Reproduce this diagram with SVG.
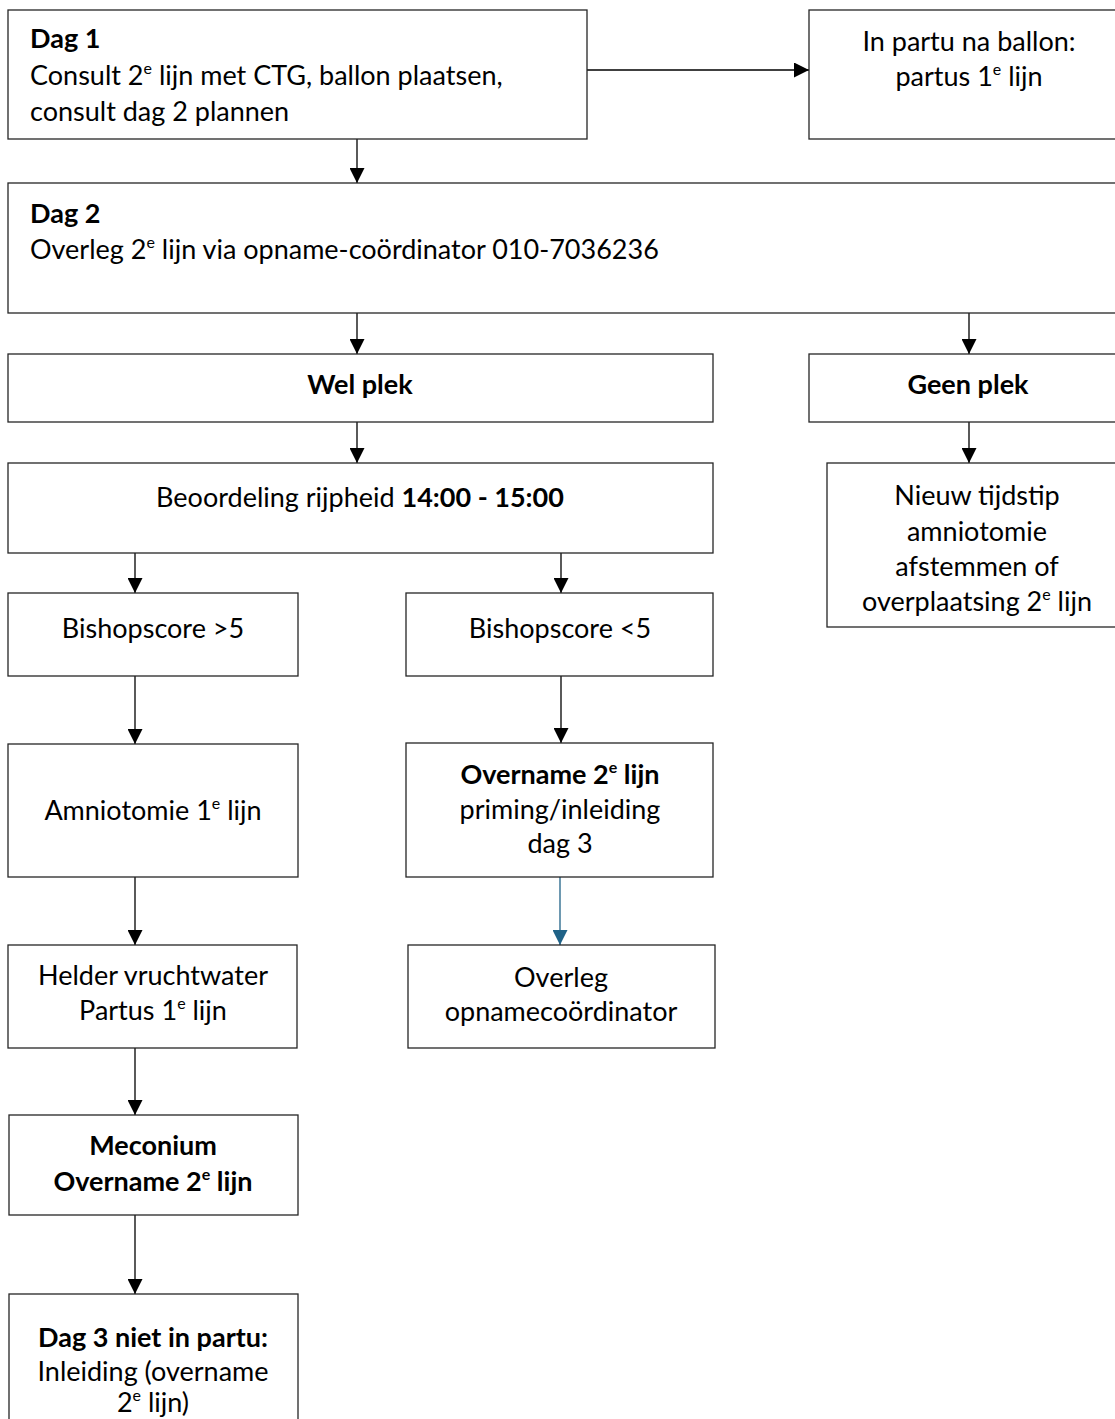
<svg xmlns="http://www.w3.org/2000/svg" width="1115" height="1419" viewBox="0 0 1115 1419">
<style>
.box{fill:#fff;stroke:#262626;stroke-width:1.3}
.t{font-family:Lato,"Liberation Sans",sans-serif;font-size:27px;fill:#000}
.c{text-anchor:middle}
.b{font-weight:bold}
.con{stroke:#000;stroke-width:1.3;fill:none}
.blue{stroke:#1f6287}
</style>
<defs>
<marker id="ah" markerUnits="userSpaceOnUse" markerWidth="15" markerHeight="15" refX="15" refY="7.5" orient="auto"><path d="M0,0 L15,7.5 L0,15 z" fill="#000"/></marker>
<marker id="ahb" markerUnits="userSpaceOnUse" markerWidth="15" markerHeight="15" refX="15" refY="7.5" orient="auto"><path d="M0,0 L15,7.5 L0,15 z" fill="#1f6287"/></marker>
</defs>
<rect width="1115" height="1419" fill="#fff"/>
<g id="connectors">
<line class="con" x1="587" y1="70" x2="809" y2="70" marker-end="url(#ah)"/>
<line class="con" x1="357" y1="139" x2="357" y2="183" marker-end="url(#ah)"/>
<line class="con" x1="357" y1="313" x2="357" y2="354" marker-end="url(#ah)"/>
<line class="con" x1="969" y1="313" x2="969" y2="354" marker-end="url(#ah)"/>
<line class="con" x1="357" y1="422" x2="357" y2="463" marker-end="url(#ah)"/>
<line class="con" x1="969" y1="422" x2="969" y2="463" marker-end="url(#ah)"/>
<line class="con" x1="135" y1="553" x2="135" y2="593" marker-end="url(#ah)"/>
<line class="con" x1="561" y1="553" x2="561" y2="593" marker-end="url(#ah)"/>
<line class="con" x1="135" y1="676" x2="135" y2="744" marker-end="url(#ah)"/>
<line class="con" x1="561" y1="676" x2="561" y2="743" marker-end="url(#ah)"/>
<line class="con" x1="135" y1="877" x2="135" y2="945" marker-end="url(#ah)"/>
<line class="con blue" x1="560" y1="877" x2="560" y2="945" marker-end="url(#ahb)"/>
<line class="con" x1="135" y1="1048" x2="135" y2="1115" marker-end="url(#ah)"/>
<line class="con" x1="135" y1="1215" x2="135" y2="1294" marker-end="url(#ah)"/>
</g>
<g id="n1"><rect class="box" x="8" y="10" width="579" height="129"/>
<text class="t b" x="30" y="48">Dag 1</text>
<text class="t" x="30" y="85">Consult 2<tspan dy="-11" font-size="16">e</tspan><tspan dy="11"> lijn met CTG, ballon plaatsen,</tspan></text>
<text class="t" x="30" y="121">consult dag 2 plannen</text></g>
<g id="n2"><rect class="box" x="809" y="10" width="320" height="129"/>
<text class="t c" x="969" y="51">In partu na ballon:</text>
<text class="t c" x="969" y="86">partus 1<tspan dy="-11" font-size="16">e</tspan><tspan dy="11"> lijn</tspan></text></g>
<g id="n3"><rect class="box" x="8" y="183" width="1125" height="130"/>
<text class="t b" x="30" y="223">Dag 2</text>
<text class="t" x="30" y="259">Overleg 2<tspan dy="-11" font-size="16">e</tspan><tspan dy="11"> lijn via opname-coördinator 010-7036236</tspan></text></g>
<g id="n4"><rect class="box" x="8" y="354" width="705" height="68"/>
<text class="t c b" x="360" y="394">Wel plek</text></g>
<g id="n5"><rect class="box" x="809" y="354" width="320" height="68"/>
<text class="t c b" x="968" y="394">Geen plek</text></g>
<g id="n6"><rect class="box" x="8" y="463" width="705" height="90"/>
<text class="t c" x="360" y="507">Beoordeling rijpheid <tspan class="b">14:00 - 15:00</tspan></text></g>
<g id="n7"><rect class="box" x="827" y="463" width="300" height="164"/>
<text class="t c" x="977" y="505">Nieuw tijdstip</text>
<text class="t c" x="977" y="541">amniotomie</text>
<text class="t c" x="977" y="576">afstemmen of</text>
<text class="t c" x="977" y="611">overplaatsing 2<tspan dy="-11" font-size="16">e</tspan><tspan dy="11"> lijn</tspan></text></g>
<g id="n8"><rect class="box" x="8" y="593" width="290" height="83"/>
<text class="t c" x="153" y="638">Bishopscore &gt;5</text></g>
<g id="n9"><rect class="box" x="406" y="593" width="307" height="83"/>
<text class="t c" x="560" y="638">Bishopscore &lt;5</text></g>
<g id="n10"><rect class="box" x="8" y="744" width="290" height="133"/>
<text class="t c" x="153" y="820">Amniotomie 1<tspan dy="-11" font-size="16">e</tspan><tspan dy="11"> lijn</tspan></text></g>
<g id="n11"><rect class="box" x="406" y="743" width="307" height="134"/>
<text class="t c b" x="560" y="784">Overname 2<tspan dy="-11" font-size="16">e</tspan><tspan dy="11"> lijn</tspan></text>
<text class="t c" x="560" y="819">priming/inleiding</text>
<text class="t c" x="560" y="853">dag 3</text></g>
<g id="n12"><rect class="box" x="8" y="945" width="289" height="103"/>
<text class="t c" x="153" y="985">Helder vruchtwater</text>
<text class="t c" x="153" y="1020">Partus 1<tspan dy="-11" font-size="16">e</tspan><tspan dy="11"> lijn</tspan></text></g>
<g id="n13"><rect class="box" x="408" y="945" width="307" height="103"/>
<text class="t c" x="561" y="987">Overleg</text>
<text class="t c" x="561" y="1021">opnamecoördinator</text></g>
<g id="n14"><rect class="box" x="9" y="1115" width="289" height="100"/>
<text class="t c b" x="153" y="1155">Meconium</text>
<text class="t c b" x="153" y="1191">Overname 2<tspan dy="-11" font-size="16">e</tspan><tspan dy="11"> lijn</tspan></text></g>
<g id="n15"><rect class="box" x="9" y="1294" width="289" height="140"/>
<text class="t c b" x="153" y="1347">Dag 3 niet in partu:</text>
<text class="t c" x="153" y="1381">Inleiding (overname</text>
<text class="t c" x="153" y="1412">2<tspan dy="-11" font-size="16">e</tspan><tspan dy="11"> lijn)</tspan></text></g>
</svg>
